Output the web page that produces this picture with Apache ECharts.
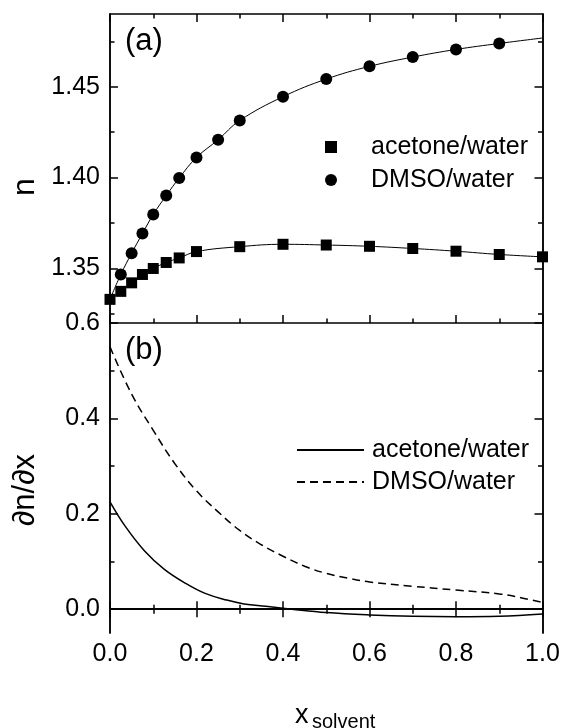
<!DOCTYPE html>
<html>
<head>
<meta charset="utf-8">
<script src="https://cdn.jsdelivr.net/npm/echarts@6/dist/echarts.min.js"></script>
<style>
html,body{margin:0;padding:0;background:#fff;}
#chart{width:566px;height:728px;}
</style>
</head>
<body>
<div id="chart"></div>
<script>
// ---- data ----
const acetoneX = [0, 0.025, 0.05, 0.075, 0.1, 0.13, 0.16, 0.2, 0.3, 0.4, 0.5, 0.6, 0.7, 0.8, 0.9, 1.0];
const acetoneN = [1.333, 1.3374, 1.3421, 1.3467, 1.350, 1.3533, 1.3558, 1.3593, 1.3620, 1.3633, 1.3629, 1.3622, 1.3610, 1.3595, 1.3577, 1.3564];
const dmsoX = [0.025, 0.05, 0.075, 0.1, 0.13, 0.16, 0.2, 0.25, 0.3, 0.4, 0.5, 0.6, 0.7, 0.8, 0.9];
const dmsoN = [1.3467, 1.3584, 1.3692, 1.3797, 1.3901, 1.3998, 1.4111, 1.4208, 1.4314, 1.4445, 1.4542, 1.4612, 1.4663, 1.4705, 1.4738];
const dmsoFitX = [0, 0.025, 0.05, 0.075, 0.1, 0.13, 0.16, 0.2, 0.25, 0.3, 0.4, 0.5, 0.6, 0.7, 0.8, 0.9, 1.0];
const dmsoFitN = [1.333, 1.3467, 1.3584, 1.3692, 1.3797, 1.3901, 1.3998, 1.4111, 1.4208, 1.4314, 1.4445, 1.4542, 1.4612, 1.4663, 1.4705, 1.4738, 1.4768];

const acetoneDerivX = [0, 0.035, 0.08, 0.125, 0.175, 0.22, 0.27, 0.31, 0.36, 0.42, 0.5, 0.6, 0.7, 0.8, 0.9, 1.0];
const acetoneDerivY = [0.225, 0.174, 0.122, 0.084, 0.054, 0.033, 0.019, 0.011, 0.006, 0.0, -0.007, -0.012, -0.015, -0.016, -0.015, -0.010];
const dmsoDerivX = [0, 0.05, 0.1, 0.15, 0.2, 0.25, 0.3, 0.35, 0.4, 0.45, 0.5, 0.55, 0.6, 0.7, 0.8, 0.9, 0.95, 1.0];
const dmsoDerivY = [0.55, 0.451, 0.375, 0.305, 0.248, 0.204, 0.165, 0.135, 0.111, 0.090, 0.075, 0.065, 0.057, 0.048, 0.040, 0.032, 0.024, 0.014];

const xTickValues = [0, 0.2, 0.4, 0.6, 0.8, 1.0];
const nTickLabels = [1.35, 1.40, 1.45];
const nMinorTicks = [1.325, 1.375, 1.425, 1.475];
const dTickLabels = [0.0, 0.2, 0.4, 0.6];
const dMinorTicks = [0.1, 0.3, 0.5];

const legendNames = ['acetone/water', 'DMSO/water'];

// ---- chart ----
const FONT = 'Liberation Sans, Arial, Helvetica, sans-serif';
const pair = (xs, ys) => xs.map((x, i) => [x, ys[i]]);
const chart = echarts.init(document.getElementById('chart'), null, {renderer: 'canvas'});

const axisLine = {show: true, lineStyle: {color: '#000', width: 1.5}};
function xAx(gridIndex, position, showLabels) {
  return {
    type: 'value', gridIndex, position, min: 0, max: 1, interval: 0.2,
    axisLine, splitLine: {show: false},
    axisTick: {show: true, inside: true, length: 8, lineStyle: {color: '#000', width: 1.5}},
    minorTick: {show: true, splitNumber: 2, length: 4.5, lineStyle: {color: '#000', width: 1.5}},
    axisLabel: {show: showLabels, color: '#000', fontSize: 25, fontFamily: FONT, margin: 9,
      formatter: v => v.toFixed(1)}
  };
}
function yAx(gridIndex, position, min, max, ticks, len, labels, digits) {
  return {
    type: 'value', gridIndex, position, min, max,
    axisLine, splitLine: {show: false},
    axisTick: {show: true, inside: true, length: len, customValues: ticks, lineStyle: {color: '#000', width: 1.5}},
    axisLabel: {show: !!labels, customValues: ticks, color: '#000', fontSize: 25, fontFamily: FONT, margin: 10,
      formatter: v => Number(v).toFixed(digits)}
  };
}

const option = {
  backgroundColor: '#fff',
  animation: false,
  grid: [
    {left: 110, right: 23.5, top: 14, height: 309, outerBoundsMode: 'none', containLabel: false},
    {left: 110, right: 23.5, top: 323, height: 310, outerBoundsMode: 'none', containLabel: false}
  ],
  xAxis: [
    xAx(0, 'bottom', false),
    xAx(0, 'top', false),
    xAx(1, 'bottom', true),
    xAx(1, 'top', false)
  ],
  yAxis: [
    yAx(0, 'left', 1.32, 1.49, nTickLabels, 8, true, 2),
    yAx(0, 'left', 1.32, 1.49, nMinorTicks, 4.5, false, 2),
    yAx(0, 'right', 1.32, 1.49, nTickLabels, 8, false, 2),
    yAx(0, 'right', 1.32, 1.49, nMinorTicks, 4.5, false, 2),
    yAx(1, 'left', -0.05, 0.6, dTickLabels, 8, true, 1),
    yAx(1, 'left', -0.05, 0.6, dMinorTicks, 4.5, false, 1),
    yAx(1, 'right', -0.05, 0.6, dTickLabels, 8, false, 1),
    yAx(1, 'right', -0.05, 0.6, dMinorTicks, 4.5, false, 1)
  ],
  legend: [
    {
      data: [legendNames[0], legendNames[1]],
      orient: 'vertical', left: 325, top: 134, padding: 0, itemGap: 7,
      itemWidth: 12, itemHeight: 12, selectedMode: false,
      itemStyle: {opacity: 1},
      textStyle: {color: '#000', fontSize: 25, fontFamily: FONT, lineHeight: 26, padding: [0, 0, 0, 29]}
    },
    {
      data: [legendNames[0] + ' ', legendNames[1] + ' '],
      orient: 'vertical', left: 296, top: 437, padding: 0, itemGap: 6,
      itemWidth: 67, itemHeight: 12, selectedMode: false,
      formatter: n => n.trim(),
      itemStyle: {color: 'rgba(0,0,0,0)', borderColor: 'rgba(0,0,0,0)', borderWidth: 0, opacity: 0},
      lineStyle: {opacity: 1},
      textStyle: {color: '#000', fontSize: 25, fontFamily: FONT, lineHeight: 26, padding: [0, 0, 0, 3]}
    }
  ],
  series: [
    {
      type: 'line', xAxisIndex: 0, yAxisIndex: 0, data: pair(acetoneX, acetoneN),
      smooth: 0.4, symbol: 'none', lineStyle: {color: '#000', width: 1}, z: 1, silent: true
    },
    {
      type: 'line', xAxisIndex: 0, yAxisIndex: 0, data: pair(dmsoFitX, dmsoFitN),
      smooth: 0.4, symbol: 'none', lineStyle: {color: '#000', width: 1}, z: 1, silent: true
    },
    {
      name: legendNames[1], type: 'scatter', xAxisIndex: 0, yAxisIndex: 0,
      data: pair(dmsoX, dmsoN), symbol: 'circle', symbolSize: 12,
      itemStyle: {color: '#000', opacity: 1}, z: 2
    },
    {
      name: legendNames[0], type: 'scatter', xAxisIndex: 0, yAxisIndex: 0,
      data: pair(acetoneX, acetoneN), symbol: 'rect', symbolSize: 11,
      itemStyle: {color: '#000', opacity: 1}, z: 3
    },
    {
      name: legendNames[0] + ' ', type: 'line', xAxisIndex: 2, yAxisIndex: 4,
      data: pair(acetoneDerivX, acetoneDerivY), smooth: 0.4, symbol: 'none',
      lineStyle: {color: '#000', width: 1.5, type: 'solid'}, itemStyle: {color: '#000'},
      markLine: {
        silent: true, symbol: ['none', 'none'], label: {show: false},
        lineStyle: {color: '#000', width: 1.5, type: 'solid'},
        data: [{yAxis: 0}]
      }
    },
    {
      name: legendNames[1] + ' ', type: 'line', xAxisIndex: 2, yAxisIndex: 4,
      data: pair(dmsoDerivX, dmsoDerivY), smooth: 0.4, symbol: 'none',
      lineStyle: {color: '#000', width: 1.5, type: [8, 5]}, itemStyle: {color: '#000'}
    }
  ],
  graphic: [
    {type: 'text', left: 125, top: 26, style: {text: '(a)', fontSize: 31, fontFamily: FONT, fill: '#000'}},
    {type: 'text', left: 125, top: 335, style: {text: '(b)', fontSize: 31, fontFamily: FONT, fill: '#000'}},
    {type: 'text', x: 25, y: 187, rotation: Math.PI / 2,
      style: {text: 'n', fontSize: 32, fontFamily: FONT, fill: '#000', align: 'center', verticalAlign: 'middle'}},
    {type: 'text', x: 25, y: 490, rotation: Math.PI / 2,
      style: {text: '\u2202n/\u2202x', fontSize: 31, fontFamily: FONT, fill: '#000', align: 'center', verticalAlign: 'middle'}},
    {type: 'text', x: 295, y: 702,
      style: {text: 'x', fontSize: 27, fontFamily: FONT, fill: '#000', align: 'left', verticalAlign: 'alphabetic'}},
    {type: 'text', x: 312, y: 712,
      style: {text: 'solvent', fontSize: 20, fontFamily: FONT, fill: '#000', align: 'left', verticalAlign: 'alphabetic'}}
  ]
};
chart.setOption(option);
</script>
</body>
</html>
